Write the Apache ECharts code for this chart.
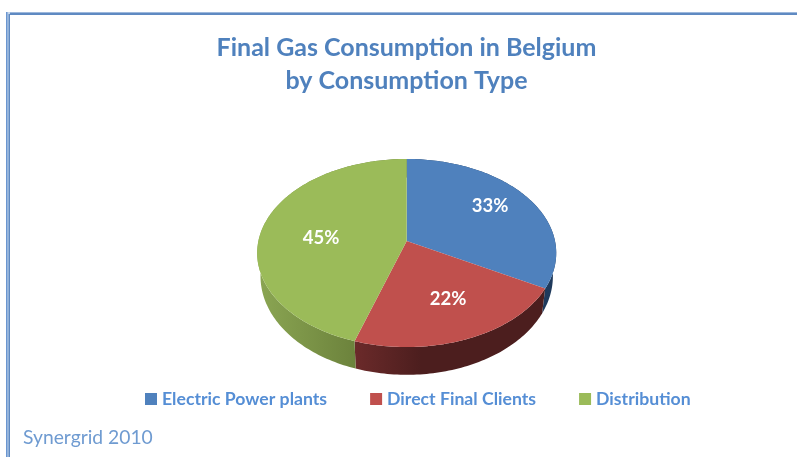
<!DOCTYPE html>
<html><head><meta charset="utf-8">
<style>html,body{margin:0;padding:0;background:#fff}#c{width:797px;height:457px;filter:blur(0.4px)}</style>
<script src="https://cdn.jsdelivr.net/npm/echarts@6/dist/echarts.min.js"></script>
</head><body><div id="c"></div>
<script>
const categories = ['Electric Power plants', 'Direct Final Clients', 'Distribution'];
const shares = [33, 22, 45];
const topColors = ['#4f81bd', '#c0504d', '#9bbb59'];
const sideLight = ['#1f3a5c', '#6b2a2a', '#8ba653'];
const sideDark = ['#1f3a5c', '#4c1e1e', '#5c7030'];
const sideFade = [1, 0.35, 1];
const titleLines = 'Final Gas Consumption in Belgium\nby Consumption Type';
const sourceNote = 'Synergrid 2010';

const total = shares.reduce((a, b) => a + b, 0);
const cx = 406.7;
const TOP = {A: 148.3, B: 92.5, C: 241};
const BOT = {A: 145, B: 97, C: 263.6};
const K = 0.1277;
const labelReach = [[0.695, 0.79], [0.667, 0.595], [0.596, 0.21]];
function proj(P, t) {
  const u = Math.sin(t), v = -Math.cos(t), w = 1 - K * v;
  return [cx + P.A * u / w, P.C + P.B * v / w];
}
function arc(P, a, b) {
  const n = Math.max(2, Math.ceil((b - a) / 0.02)), pts = [];
  for (let i = 0; i <= n; i++) pts.push(proj(P, a + (b - a) * i / n));
  return pts;
}
const fracStart = idx => shares.slice(0, idx).reduce((a, b) => a + b, 0) / total;

const series = categories.map((name, idx) => ({
  type: 'custom',
  name,
  coordinateSystem: 'none',
  silent: true,
  itemStyle: {color: topColors[idx]},
  data: [[shares[idx], fracStart(idx)]],
  renderItem(params, api) {
    const a = api.value(1) * 2 * Math.PI;
    const b = a + api.value(0) / total * 2 * Math.PI;
    const topArc = arc(TOP, a, b);
    const botArc = arc(BOT, a, b).reverse();
    const mid = (a + b) / 2;
    const labelPt = proj({A: TOP.A * labelReach[idx][0], B: TOP.B * labelReach[idx][1], C: TOP.C}, mid);
    return {
      type: 'group',
      children: [
        {type: 'polygon', z2: 1, shape: {points: topArc.concat(botArc)},
         style: {fill: new echarts.graphic.LinearGradient(0, 0, 1, 0, [
           {offset: 0, color: sideLight[idx]},
           {offset: sideFade[idx], color: sideDark[idx]},
           {offset: 1, color: sideDark[idx]}])}},
        {type: 'polygon', z2: 10, shape: {points: [[cx, TOP.C]].concat(topArc)},
         style: {fill: topColors[idx]}},
        {type: 'text', z2: 20, x: labelPt[0], y: labelPt[1],
         style: {text: api.value(0) + '%', fill: '#fff', align: 'center', verticalAlign: 'middle',
                 font: 'bold 18.5px Lato'}}
      ]
    };
  }
}));

const chart = echarts.init(document.getElementById('c'), null, {renderer: 'canvas'});
chart.setOption({
  animation: false,
  backgroundColor: '#fff',
  title: [
    {text: titleLines, left: 406.5, top: 31, textAlign: 'center', padding: 0,
     textStyle: {color: '#4f81bd', fontFamily: 'Lato', fontWeight: 'bold', fontSize: 25, lineHeight: 33, align: 'center'}},
    {text: sourceNote, left: 23, top: 428, padding: 0,
     textStyle: {color: '#6f9bd1', fontFamily: 'Lato', fontWeight: 'normal', fontSize: 19.3}}
  ],
  legend: {
    left: 145, top: 390, padding: 0, itemWidth: 12, itemHeight: 12, itemGap: 43, icon: 'rect',
    selectedMode: false,
    data: categories,
    textStyle: {color: '#558ed5', fontFamily: 'Lato', fontWeight: 'bold', fontSize: 17.65}
  },
  graphic: [
    {type: 'rect', silent: true, shape: {x: 6, y: 12, width: 791, height: 1}, style: {fill: '#9db8dc'}},
    {type: 'rect', silent: true, shape: {x: 6, y: 13, width: 791, height: 2}, style: {fill: '#5f8ac2'}},
    {type: 'rect', silent: true, shape: {x: 6, y: 12, width: 4, height: 445}, style: {fill: '#c5d6ec'}},
    {type: 'rect', silent: true, shape: {x: 6, y: 12, width: 1.5, height: 445}, style: {fill: '#6b96d0'}},
    {type: 'rect', silent: true, shape: {x: 8.5, y: 14, width: 1.5, height: 443}, style: {fill: '#5f8ac2'}}
  ],
  series
});
</script></body></html>
